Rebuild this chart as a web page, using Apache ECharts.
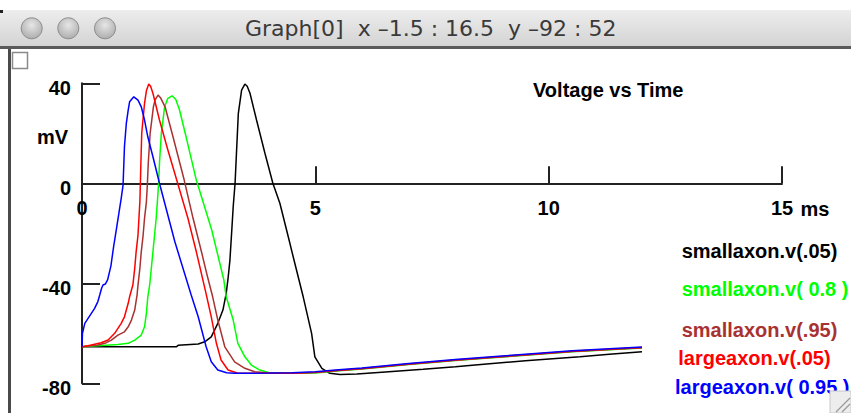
<!DOCTYPE html>
<html><head><meta charset="utf-8">
<script src="https://cdn.jsdelivr.net/npm/echarts@6/dist/echarts.min.js"></script>
<style>html,body{margin:0;padding:0;background:#fff}#c{width:851px;height:413px}</style>
</head><body><div id="c"></div>
<script>
// ---- data (t in ms, v in mV) ----
const seriesNames = ['smallaxon.v(.05)', 'smallaxon.v( 0.8 )', 'smallaxon.v(.95)', 'largeaxon.v(.05)', 'largeaxon.v( 0.95 )'];
const xTicks = [0, 5, 10, 15];
const yTicks = [-80, -40, 0, 40];

const smallaxon05 = [[0,-65.4],[1.0,-65.4],[2.02,-65.4],[2.06,-64.8],[2.49,-64.3],[2.63,-63.4],[2.77,-61.4],[2.91,-56],[3.02,-50.7],[3.09,-44],[3.13,-38],[3.17,-30.7],[3.21,-18.7],[3.24,-9.4],[3.28,0],[3.31,12],[3.35,28],[3.42,37.3],[3.49,39.7],[3.54,38.8],[3.60,36],[3.74,25.3],[3.92,12],[4.09,0],[4.24,-8],[4.42,-21.4],[4.56,-32],[4.74,-45.4],[4.92,-60],[4.99,-69.4],[5.14,-74],[5.31,-76],[5.53,-76.5],[5.89,-76.3],[6.5,-75.5],[7.31,-74.4],[8,-73.4],[8.67,-72.3],[9.5,-71],[10.67,-69.4],[11.3,-68.4],[12,-67.4]];

const smallaxon08 = [[0,-65.4],[0.34,-65],[0.77,-64.5],[0.99,-64],[1.13,-62.7],[1.27,-60.7],[1.34,-57.4],[1.38,-52],[1.41,-45.4],[1.45,-40.7],[1.52,-27.4],[1.59,-14],[1.64,-0.7],[1.66,8],[1.70,20],[1.77,30.6],[1.84,34],[1.93,35],[2.01,33.5],[2.09,29.3],[2.23,18.6],[2.45,1.3],[2.78,-18.7],[3.04,-38.7],[3.09,-45.4],[3.24,-54.7],[3.34,-64],[3.49,-69.4],[3.63,-72.7],[3.81,-74.7],[4.0,-75.7],[4.5,-76.0],[5,-75.9],[5.5,-75.0],[6,-74.3],[6.5,-73.4],[7,-72.5],[7.5,-71.7],[8,-70.9],[8.5,-70.2],[9,-69.5],[9.5,-68.8],[10,-68.1],[10.5,-67.4],[11,-66.9],[11.5,-66.4],[12,-65.9]];

const smallaxon95 = [[0,-65.4],[0.34,-64.7],[0.49,-64],[0.63,-62.7],[0.77,-60.7],[0.91,-59.4],[0.99,-57.4],[1.06,-54.7],[1.13,-50.7],[1.16,-47],[1.18,-44.7],[1.20,-40.7],[1.24,-34],[1.27,-27.4],[1.31,-20.7],[1.34,-14],[1.38,-7.4],[1.40,-0.7],[1.42,8],[1.46,20],[1.53,30.6],[1.57,33.5],[1.63,35.3],[1.69,34],[1.78,30.6],[1.95,18.6],[2.19,1.3],[2.38,-14],[2.56,-27.4],[2.68,-36.7],[2.80,-45.4],[2.91,-54.7],[3.06,-65.4],[3.27,-71.4],[3.49,-74],[3.70,-75.4],[4.0,-75.9],[4.5,-76],[5,-75.7],[5.5,-74.9],[6,-74.2],[6.5,-73.3],[7,-72.4],[7.5,-71.6],[8,-70.8],[8.5,-70.1],[9,-69.4],[9.5,-68.7],[10,-68],[10.5,-67.3],[11,-66.8],[11.5,-66.3],[12,-65.8]];

const largeaxon05 = [[0,-65.4],[0.13,-65],[0.27,-64.4],[0.41,-63.8],[0.56,-62.7],[0.70,-60],[0.77,-58],[0.84,-56],[0.91,-53.4],[0.95,-50.7],[0.99,-48],[1.02,-45.4],[1.06,-42.7],[1.09,-40.7],[1.13,-34],[1.16,-27.4],[1.20,-20.7],[1.22,-14],[1.24,-7.4],[1.25,-0.7],[1.26,6.7],[1.28,20],[1.34,32],[1.38,37],[1.43,39.7],[1.47,38.8],[1.52,36],[1.66,25.3],[1.84,13.3],[2.05,0],[2.27,-14],[2.45,-27.4],[2.65,-43.4],[2.77,-53.4],[2.88,-64],[2.98,-70.7],[3.13,-74.7],[3.34,-76],[4,-76],[4.5,-76],[5,-75.6],[5.5,-74.8],[6,-74.1],[6.5,-73.2],[7,-72.3],[7.5,-71.5],[8,-70.7],[8.5,-70],[9,-69.3],[9.5,-68.6],[10,-67.9],[10.5,-67.2],[11,-66.7],[11.5,-66.2],[12,-65.7]];

const largeaxon95 = [[0,-65.4],[0.01,-60],[0.06,-56],[0.13,-54],[0.2,-52],[0.27,-50],[0.34,-47.3],[0.38,-44.7],[0.42,-42],[0.45,-40.7],[0.5,-40.3],[0.55,-38.5],[0.62,-33],[0.68,-25],[0.74,-18],[0.79,-12],[0.84,-6],[0.88,-0.7],[0.91,14.7],[0.95,24],[0.99,29.3],[1.02,32.6],[1.11,34.6],[1.20,33.3],[1.27,30.6],[1.34,25.3],[1.41,18.6],[1.52,10.6],[1.66,0],[1.99,-23.4],[2.34,-44.7],[2.49,-53.4],[2.66,-65.4],[2.77,-71.4],[2.91,-74.7],[3.1,-75.8],[3.27,-76],[4,-75.9],[4.5,-75.8],[5,-75.4],[5.5,-74.6],[6,-73.9],[6.5,-73],[7,-72.1],[7.5,-71.3],[8,-70.5],[8.5,-69.8],[9,-69.1],[9.5,-68.4],[10,-67.7],[10.5,-67],[11,-66.5],[11.5,-66],[12,-65.5]];

const seriesData = [smallaxon05, smallaxon08, smallaxon95, largeaxon05, largeaxon95];

// ---- styles / layout ----
const seriesColors = ['#000000', '#00ff00', '#a83232', '#ff0000', '#0000ff'];
const legendPos = [[681.7,250.7],[681.7,289.3],[681.7,330],[678.3,358.3],[675,386.7]];
const FONT = '"Liberation Sans", Arial, Helvetica, sans-serif';
const AX = '#222222';

const chart = echarts.init(document.getElementById('c'), null, {renderer:'svg', width:851, height:413});

const graphics = [
  // title bar
  {type:'rect', shape:{x:0,y:10,width:851,height:37}, style:{fill:new echarts.graphic.LinearGradient(0,0,0,1,[{offset:0,color:'#ededed'},{offset:1,color:'#d3d3d3'}])}, z:1},
  {type:'rect', shape:{x:0,y:46,width:851,height:3}, style:{fill:'#5a5a5a'}, z:1},
  {type:'rect', shape:{x:0,y:10,width:3,height:3}, style:{fill:'#222'}, z:1},
  {type:'text', x:245, y:28.5, style:{text:'Graph[0]  x \u20131.5 : 16.5  y \u201392 : 52', fontSize:22, fontFamily:'"DejaVu Sans", sans-serif', fill:'#3a3a3a', verticalAlign:'middle', align:'left'}, z:2},
  // left border
  {type:'rect', shape:{x:8,y:49,width:3,height:364}, style:{fill:'#4a4a4a'}, z:1},
  // small checkbox
  {type:'rect', shape:{x:12.5,y:52.5,width:15,height:16}, style:{fill:'#fff', stroke:'#8a8a8a', lineWidth:1.5}, z:1},
  // axis unit labels
  {type:'text', x:68, y:136.7, style:{text:'mV', fontSize:20, fontWeight:'bold', fontFamily:FONT, fill:'#000', align:'right', verticalAlign:'middle'}, z:2},
  {type:'text', x:800.5, y:208.7, style:{text:'ms', fontSize:20, fontWeight:'bold', fontFamily:FONT, fill:'#000', align:'left', verticalAlign:'middle'}, z:2}
];
// window buttons
[31.7, 68.3, 105].forEach(cx => graphics.push({type:'circle', shape:{cx:cx, cy:28.3, r:10.5},
  style:{fill:new echarts.graphic.RadialGradient(0.5,0.35,0.7,[{offset:0,color:'#e6e6e6'},{offset:1,color:'#a9a9a9'}]), stroke:'#8d8d8d', lineWidth:1}, z:2}));
// legend labels
seriesNames.forEach((n,i) => graphics.push({type:'text', x:legendPos[i][0], y:legendPos[i][1],
  style:{text:n, fontSize:20, fontWeight:'bold', fontFamily:FONT, fill:seriesColors[i], align:'left', verticalAlign:'middle'}, z:3}));
// resize grip
graphics.push({type:'rect', shape:{x:830,y:391,width:21,height:22}, style:{fill:'#ededed', stroke:'#c8c8c8', lineWidth:1}, z:10});
graphics.push({type:'line', shape:{x1:836,y1:412,x2:850,y2:398}, style:{stroke:'#9a9a9a', lineWidth:1.2}, z:11});
graphics.push({type:'line', shape:{x1:842,y1:412,x2:850,y2:404}, style:{stroke:'#9a9a9a', lineWidth:1.2}, z:11});

const option = {
  backgroundColor:'#ffffff',
  animation:false,
  title:{text:'Voltage vs Time', left:528, top:75, textStyle:{fontSize:20, fontWeight:'bold', fontFamily:FONT, color:'#000'}},
  grid:{left:82, top:83.3, width:700, height:300, containLabel:false, outerBoundsMode:'none'},
  xAxis:{type:'value', position:'bottom', offset:-200, min:xTicks[0], max:xTicks[xTicks.length-1], interval:5,
    axisLine:{show:true, onZero:false, lineStyle:{color:AX, width:2}},
    axisTick:{show:true, inside:true, length:17, lineStyle:{color:AX, width:2}},
    axisLabel:{show:true, margin:15, fontSize:20, fontWeight:'bold', fontFamily:FONT, color:'#000'},
    splitLine:{show:false}},
  yAxis:{type:'value', min:yTicks[0], max:yTicks[yTicks.length-1], interval:40,
    axisLine:{show:true, onZero:false, lineStyle:{color:AX, width:2}},
    axisTick:{show:true, inside:true, length:18, lineStyle:{color:AX, width:2}},
    axisLabel:{show:true, margin:11, fontSize:20, fontWeight:'bold', fontFamily:FONT, color:'#000', verticalAlign:'top', lineHeight:9},
    splitLine:{show:false}},
  series: seriesData.map((d,i) => ({name:seriesNames[i], type:'line', data:d, showSymbol:false, symbol:'none',
    smooth:false, clip:false, lineStyle:{color:seriesColors[i], width:1.5}, itemStyle:{color:seriesColors[i]}, z:2+i})),
  graphic: graphics
};
chart.setOption(option);
</script>
</body></html>
